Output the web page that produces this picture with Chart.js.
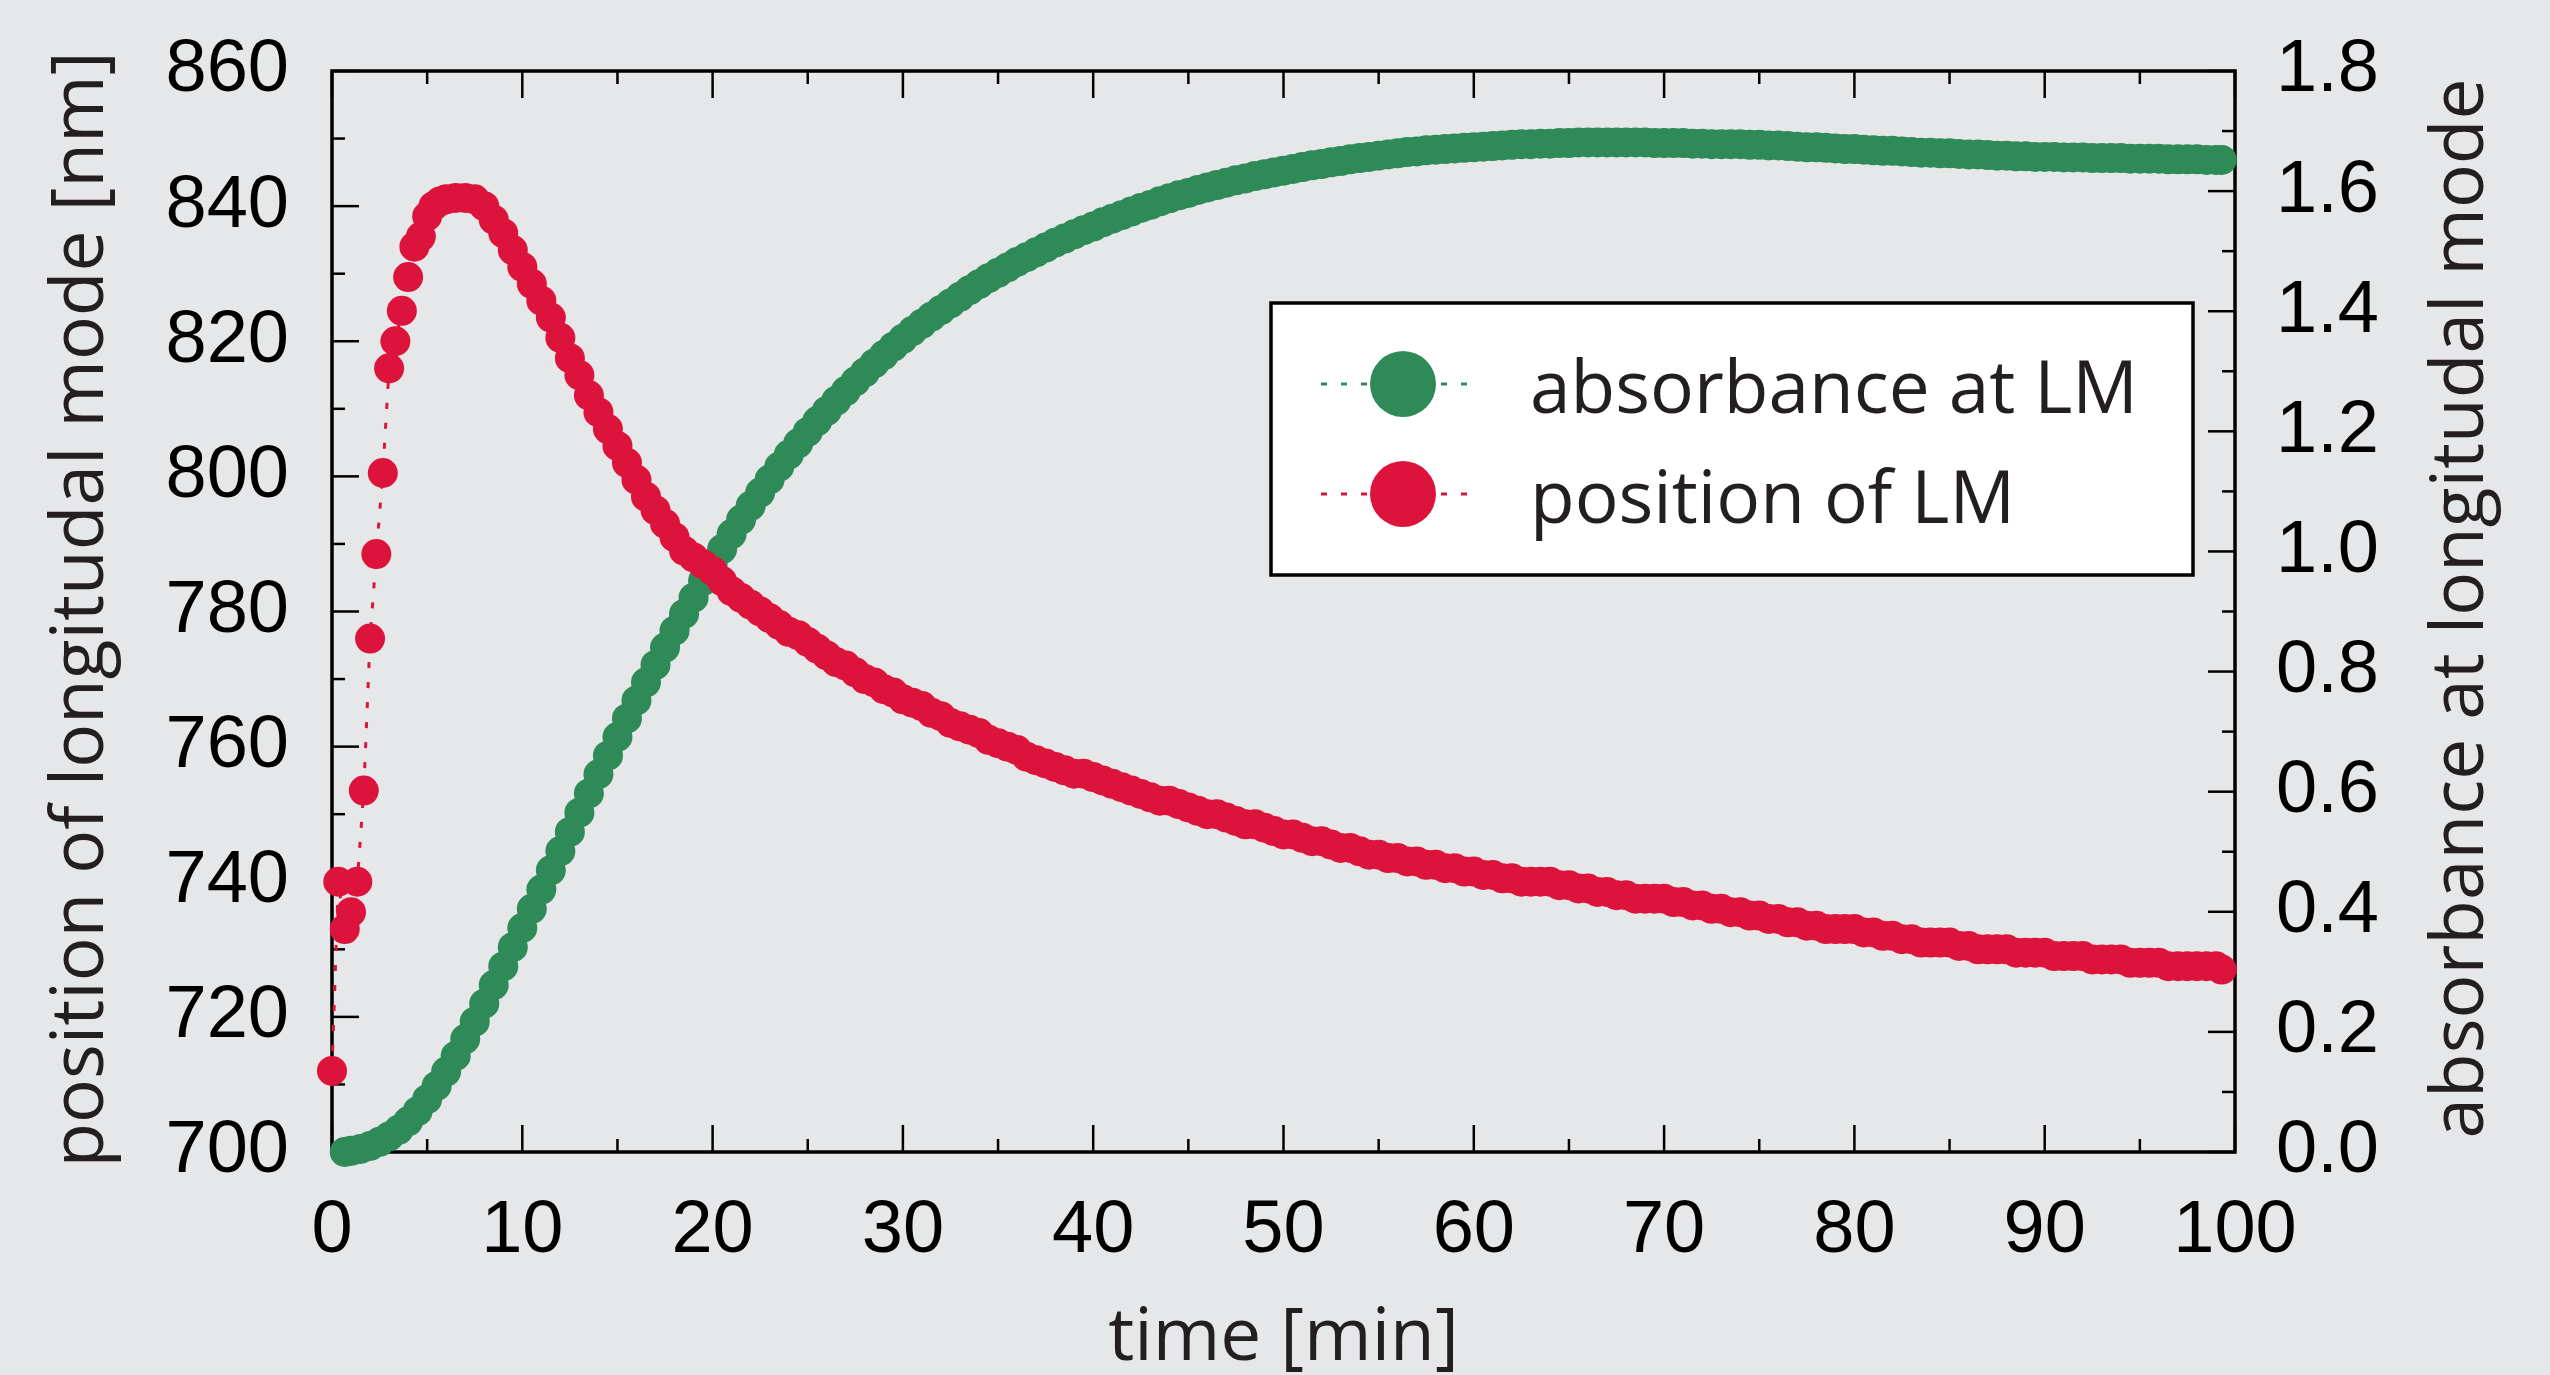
<!DOCTYPE html>
<html>
<head>
<meta charset="utf-8">
<script src="https://cdn.jsdelivr.net/npm/chart.js@4.4.1/dist/chart.umd.min.js"></script>
<style>
  html, body { margin: 0; padding: 0; background: #e6e7e9; }
  #wrap { width: 2550px; height: 1375px; position: relative; }
</style>
</head>
<body>
<div id="wrap"><canvas id="c" width="2550" height="1375"></canvas></div>
<script>
// ---------------- data ----------------
const seriesLabels = ['absorbance at LM', 'position of LM'];

const greenTime = [0.67,
  1,1.5,2,2.5,3,3.5,4,4.5,5,5.5,6,6.5,7,7.5,8,8.5,9,9.5,10,10.5,
  11,11.5,12,12.5,13,13.5,14,14.5,15,15.5,16,16.5,17,17.5,18,18.5,19,19.5,20,20.5,
  21,21.5,22,22.5,23,23.5,24,24.5,25,25.5,26,26.5,27,27.5,28,28.5,29,29.5,30,30.5,
  31,31.5,32,32.5,33,33.5,34,34.5,35,35.5,36,36.5,37,37.5,38,38.5,39,39.5,40,40.5,
  41,41.5,42,42.5,43,43.5,44,44.5,45,45.5,46,46.5,47,47.5,48,48.5,49,49.5,50,50.5,
  51,51.5,52,52.5,53,53.5,54,54.5,55,55.5,56,56.5,57,57.5,58,58.5,59,59.5,60,60.5,
  61,61.5,62,62.5,63,63.5,64,64.5,65,65.5,66,66.5,67,67.5,68,68.5,69,69.5,70,70.5,
  71,71.5,72,72.5,73,73.5,74,74.5,75,75.5,76,76.5,77,77.5,78,78.5,79,79.5,80,80.5,
  81,81.5,82,82.5,83,83.5,84,84.5,85,85.5,86,86.5,87,87.5,88,88.5,89,89.5,90,90.5,
  91,91.5,92,92.5,93,93.5,94,94.5,95,95.5,96,96.5,97,97.5,98,98.5,99,
  99.3];
const greenAbs = [0.000,
  0.002,0.005,0.010,0.017,0.026,0.037,0.051,0.068,0.088,0.110,0.134,0.160,0.188,0.217,0.247,0.278,0.309,0.341,0.373,0.405,
  0.437,0.469,0.501,0.533,0.565,0.597,0.629,0.660,0.691,0.722,0.752,0.782,0.811,0.840,0.868,0.896,0.923,0.951,0.978,1.004,
  1.029,1.053,1.076,1.098,1.120,1.141,1.161,1.180,1.199,1.217,1.234,1.251,1.267,1.283,1.298,1.313,1.327,1.341,1.354,1.367,
  1.379,1.391,1.402,1.413,1.424,1.435,1.445,1.455,1.464,1.473,1.482,1.490,1.498,1.506,1.514,1.521,1.528,1.535,1.541,1.548,
  1.554,1.560,1.566,1.572,1.577,1.583,1.588,1.593,1.597,1.602,1.606,1.610,1.614,1.618,1.621,1.625,1.628,1.631,1.634,1.637,
  1.640,1.643,1.645,1.648,1.650,1.653,1.655,1.657,1.659,1.661,1.663,1.665,1.666,1.668,1.669,1.670,1.671,1.672,1.673,1.674,
  1.675,1.676,1.677,1.678,1.678,1.679,1.679,1.680,1.680,1.681,1.681,1.681,1.681,1.681,1.681,1.681,1.681,1.680,1.680,1.680,
  1.680,1.679,1.679,1.678,1.678,1.678,1.678,1.677,1.677,1.676,1.676,1.675,1.674,1.673,1.673,1.672,1.671,1.670,1.670,1.669,
  1.668,1.667,1.667,1.666,1.665,1.664,1.664,1.663,1.663,1.662,1.661,1.661,1.660,1.659,1.659,1.658,1.658,1.657,1.657,1.657,
  1.656,1.656,1.656,1.655,1.655,1.655,1.655,1.654,1.654,1.654,1.654,1.653,1.653,1.653,1.653,1.652,1.652,
  1.652];

const redTime = [0,0.33,0.67,1,1.33,1.67,2,2.33,2.67,3,3.33,3.67,4,4.33,4.67,5,5.33,5.67,6,
  6.5,7,7.5,8,8.5,9,9.5,10,10.5,
  11,11.5,12,12.5,13,13.5,14,14.5,15,15.5,16,16.5,17,17.5,18,18.5,19,19.5,20,20.5,
  21,21.5,22,22.5,23,23.5,24,24.5,25,25.5,26,26.5,27,27.5,28,28.5,29,29.5,30,30.5,
  31,31.5,32,32.5,33,33.5,34,34.5,35,35.5,36,36.5,37,37.5,38,38.5,39,39.5,40,40.5,
  41,41.5,42,42.5,43,43.5,44,44.5,45,45.5,46,46.5,47,47.5,48,48.5,49,49.5,50,50.5,
  51,51.5,52,52.5,53,53.5,54,54.5,55,55.5,56,56.5,57,57.5,58,58.5,59,59.5,60,60.5,
  61,61.5,62,62.5,63,63.5,64,64.5,65,65.5,66,66.5,67,67.5,68,68.5,69,69.5,70,70.5,
  71,71.5,72,72.5,73,73.5,74,74.5,75,75.5,76,76.5,77,77.5,78,78.5,79,79.5,80,80.5,
  81,81.5,82,82.5,83,83.5,84,84.5,85,85.5,86,86.5,87,87.5,88,88.5,89,89.5,90,90.5,
  91,91.5,92,92.5,93,93.5,94,94.5,95,95.5,96,96.5,97,97.5,98,98.5,99,
  99.3];
const redPos = [712,740,733,735.5,740,753.5,776,788.5,800.5,816,820,824.5,829.5,834,835.5,838.5,840,840.7,841,
  841.2,841.2,841,840,838,836,833.5,831,828.5,
  826,823.5,820.5,817.5,815,812,809.5,807,804.5,802,799.5,797,795,793,791,789,788,787,786,784.5,
  783,782,781,780,779,778,777,776.5,775.5,774.5,773.5,772.5,772,771,770,769.5,768.5,768,767,766.5,
  766,765,764.5,763.5,763,762.5,762,761,760.5,760,759.5,758.5,758,757.5,757,756.5,756,756,755.5,755,
  754.5,754,753.5,753,752.5,752,752,751.5,751,750.5,750,750,749.5,749,748.5,748.5,748,747.5,747,747,
  746.5,746,746,745.5,745,745,744.5,744,744,743.5,743.5,743,743,742.5,742.5,742,742,741.5,741.5,741,
  741,740.5,740.5,740,740,740,740,739.5,739.5,739,739,738.5,738.5,738,738,737.5,737.5,737.5,737.5,737,
  737,736.5,736.5,736,736,735.5,735.5,735,735,734.5,734.5,734,734,733.5,733.5,733,733,733,733,732.5,
  732.5,732,732,731.5,731.5,731,731,731,731,730.5,730.5,730,730,730,730,729.5,729.5,729.5,729.5,729,
  729,729,729,728.5,728.5,728.5,728.5,728,728,728,728,727.5,727.5,727.5,727.5,727.5,727.5,
  727];

const xTickValues = [0,10,20,30,40,50,60,70,80,90,100];
const xTickLabels = ['0','10','20','30','40','50','60','70','80','90','100'];
const xMinorTicks = [5,15,25,35,45,55,65,75,85,95];
const leftTickValues = [700,720,740,760,780,800,820,840,860];
const leftTickLabels = ['700','720','740','760','780','800','820','840','860'];
const leftMinorTicks = [710,730,750,770,790,810,830,850];
const rightTickValues = [0,0.2,0.4,0.6,0.8,1.0,1.2,1.4,1.6,1.8];
const rightTickLabels = ['0.0','0.2','0.4','0.6','0.8','1.0','1.2','1.4','1.6','1.8'];
const rightMinorTicks = [0.1,0.3,0.5,0.7,0.9,1.1,1.3,1.5,1.7];

const xTitle = 'time [min]';
const leftTitle = 'position of longitudal mode [nm]';
const rightTitle = 'absorbance at longitudal mode';

// ---------------- style ----------------
const GREEN = '#2e8b57';
const RED = '#dc143c';
const TEXT = '#231f20';
const TICK_FONT = { family: '"Liberation Sans", Arial, sans-serif', size: 74 };
const TITLE_FONT = '73px "Open Sans", sans-serif';

const toXY = (xs, ys) => xs.map((x, i) => ({ x: x, y: ys[i] }));

const framePlugin = {
  id: 'frameTicks',
  beforeDatasetsDraw(chart) {
    const { ctx, chartArea: a, scales } = chart;
    ctx.save();
    ctx.strokeStyle = '#000';
    ctx.lineCap = 'butt';
    ctx.lineWidth = 2.5;
    const major = 27, minor = 13;
    const vTick = (px, len) => {
      ctx.beginPath(); ctx.moveTo(px, a.bottom); ctx.lineTo(px, a.bottom - len); ctx.stroke();
      ctx.beginPath(); ctx.moveTo(px, a.top); ctx.lineTo(px, a.top + len); ctx.stroke();
    };
    xTickValues.forEach(v => vTick(scales.x.getPixelForValue(v), major));
    xMinorTicks.forEach(v => vTick(scales.x.getPixelForValue(v), minor));
    const lTick = (py, len) => { ctx.beginPath(); ctx.moveTo(a.left, py); ctx.lineTo(a.left + len, py); ctx.stroke(); };
    const rTick = (py, len) => { ctx.beginPath(); ctx.moveTo(a.right, py); ctx.lineTo(a.right - len, py); ctx.stroke(); };
    leftTickValues.forEach(v => lTick(scales.y.getPixelForValue(v), major));
    leftMinorTicks.forEach(v => lTick(scales.y.getPixelForValue(v), minor));
    rightTickValues.forEach(v => rTick(scales.y2.getPixelForValue(v), major));
    rightMinorTicks.forEach(v => rTick(scales.y2.getPixelForValue(v), minor));
    ctx.lineWidth = 3.5;
    ctx.strokeRect(a.left, a.top, a.right - a.left, a.bottom - a.top);
    ctx.restore();
  },
  afterDatasetsDraw(chart) {
    const { ctx } = chart;
    ctx.save();
    const bx = 1271, by = 303, bw = 922, bh = 272;
    ctx.fillStyle = '#ffffff';
    ctx.fillRect(bx, by, bw, bh);
    ctx.strokeStyle = '#000';
    ctx.lineWidth = 3.5;
    ctx.strokeRect(bx, by, bw, bh);
    const rows = [384, 494];
    chart.data.datasets.forEach((ds, i) => {
      const cy = rows[i];
      ctx.strokeStyle = ds.borderColor;
      ctx.lineWidth = 3;
      ctx.setLineDash([6, 14]);
      ctx.beginPath(); ctx.moveTo(1321, cy); ctx.lineTo(1480, cy); ctx.stroke();
      ctx.setLineDash([]);
      ctx.fillStyle = ds.pointBackgroundColor;
      ctx.beginPath(); ctx.arc(1403, cy, 33, 0, Math.PI * 2); ctx.fill();
      ctx.fillStyle = TEXT;
      ctx.font = TITLE_FONT;
      ctx.textAlign = 'left';
      ctx.textBaseline = 'alphabetic';
      ctx.fillText(ds.label, 1530, cy + 29);
    });
    ctx.restore();
  },
  afterDraw(chart) {
    const { ctx, chartArea: a } = chart;
    ctx.save();
    ctx.fillStyle = TEXT;
    ctx.font = TITLE_FONT;
    ctx.textAlign = 'center';
    ctx.textBaseline = 'alphabetic';
    const midY = (a.top + a.bottom) / 2;
    ctx.fillText(xTitle, (a.left + a.right) / 2, 1360);
    ctx.save(); ctx.translate(103, midY - 2); ctx.rotate(-Math.PI / 2); ctx.fillText(leftTitle, 0, 0); ctx.restore();
    ctx.save(); ctx.translate(2483, midY - 3); ctx.rotate(-Math.PI / 2); ctx.fillText(rightTitle, 0, 0); ctx.restore();
    ctx.restore();
  }
};

const commonDs = {
  showLine: true, borderWidth: 3, borderDash: [6, 14],
  pointBorderWidth: 0, pointRadius: 15, pointHoverRadius: 15, clip: false
};

const fitY = w => s => { s.width = w; s.paddingTop = 0; s.paddingBottom = 0; };

new Chart(document.getElementById('c'), {
  type: 'scatter',
  data: {
    datasets: [
      Object.assign({}, commonDs, {
        label: seriesLabels[0], data: toXY(greenTime, greenAbs), yAxisID: 'y2',
        borderColor: GREEN, pointBackgroundColor: GREEN, order: 2
      }),
      Object.assign({}, commonDs, {
        label: seriesLabels[1], data: toXY(redTime, redPos), yAxisID: 'y',
        borderColor: RED, pointBackgroundColor: RED, order: 1
      })
    ]
  },
  options: {
    responsive: false,
    devicePixelRatio: 1,
    animation: false,
    events: [],
    layout: { padding: { top: 71, left: 0, right: 0, bottom: 0 } },
    plugins: { legend: { display: false }, tooltip: { enabled: false }, title: { display: false } },
    scales: {
      x: {
        type: 'linear', position: 'bottom', min: 0, max: 100,
        afterBuildTicks: s => { s.ticks = xTickValues.map(v => ({ value: v })); },
        afterFit: s => { s.height = 223; s.paddingLeft = 0; s.paddingRight = 0; },
        grid: { display: false },
        border: { display: false },
        ticks: { font: TICK_FONT, color: '#000', padding: 27, autoSkip: false, maxRotation: 0,
                 callback: (v, i) => xTickLabels[i] }
      },
      y: {
        type: 'linear', position: 'left', min: 700, max: 860,
        afterBuildTicks: s => { s.ticks = leftTickValues.map(v => ({ value: v })); },
        afterFit: fitY(332),
        grid: { display: false },
        border: { display: false },
        ticks: { font: TICK_FONT, color: '#000', padding: 35, autoSkip: false,
                 callback: (v, i) => leftTickLabels[i] }
      },
      y2: {
        type: 'linear', position: 'right', min: 0, max: 1.8,
        afterBuildTicks: s => { s.ticks = rightTickValues.map(v => ({ value: v })); },
        afterFit: fitY(315),
        grid: { display: false },
        border: { display: false },
        ticks: { font: TICK_FONT, color: '#000', padding: 33, autoSkip: false,
                 callback: (v, i) => rightTickLabels[i] }
      }
    }
  },
  plugins: [framePlugin]
});
</script>
</body>
</html>
